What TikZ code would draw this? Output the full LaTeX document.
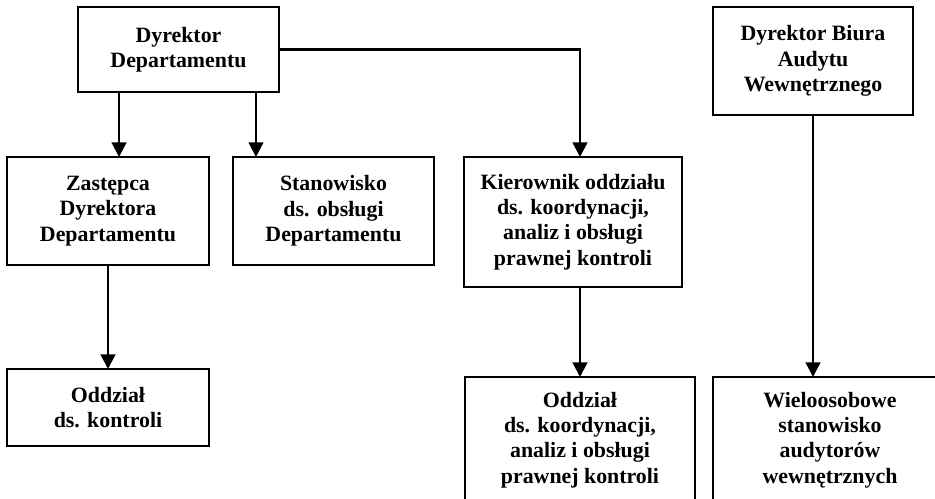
\documentclass[tikz,border=0pt]{standalone}
\usepackage{fontspec}
\setmainfont{Liberation Serif}
\usetikzlibrary{arrows.meta}
\begin{document}
\begin{tikzpicture}[x=0.75pt, y=-0.75pt, line width=1.8pt,
	box/.style={draw, rectangle, align=center, inner sep=0pt, outer sep=0pt,
		font=\bfseries\fontsize{16.4}{19}\selectfont},
	arr/.style={-{Triangle[length=11pt,width=11pt]}}]
			\useasboundingbox (0,0) rectangle (935,499);
			\clip (0,0) rectangle (935,499);
			
			%top level
			\node[box, minimum width=150.75pt, minimum height=63.75pt] (dd) at (178.5, 49.5){Dyrektor\\Departamentu};
			\node[box, minimum width=150pt, minimum height=81pt] (dbaw) at (813, 61){Dyrektor Biura\\Audytu\\Wewnętrznego};
			
			%second level
			\node[box, minimum width=151.5pt, minimum height=81pt] (zast) at (108, 211){Zastępca\\Dyrektora\\Departamentu};
			\node[box, minimum width=150.75pt, minimum height=81pt] (stan) at (333.5, 211){Stanowisko\\ds. obsługi\\Departamentu};
			\node[box, minimum width=163.5pt, minimum height=97.5pt] (kier) at (573, 222){Kierownik oddziału\\ds. koordynacji,\\analiz i obsługi\\prawnej kontroli};
			
			%third level
			\node[box, minimum width=151.5pt, minimum height=57.75pt] (odk) at (108, 407.5){Oddział\\ds. kontroli};
			\node[box, minimum width=172.5pt, minimum height=94.5pt] (odkoord) at (580, 440){Oddział\\ds. koordynacji,\\analiz i obsługi\\prawnej kontroli};
			\node[box, minimum width=175.5pt, minimum height=94.5pt] (wiel) at (830, 440){Wieloosobowe\\stanowisko\\audytorów\\wewnętrznych};
			
			%connectors
			\draw[arr] ([xshift=-44.6pt]dd.south) -- ([xshift=-44.6pt]dd.south |- zast.north);
			\draw[arr] ([xshift=58.1pt]dd.south) -- ([xshift=58.1pt]dd.south |- stan.north);
			\draw[arr] (dd.east) -| (kier.north -| odkoord);
			\draw[arr] (zast.south) -- (odk.north);
			\draw[arr] (kier.south -| odkoord) -- (odkoord.north);
			\draw[arr] (dbaw.south) -- (dbaw.south |- wiel.north);
		\end{tikzpicture}
\end{document}
